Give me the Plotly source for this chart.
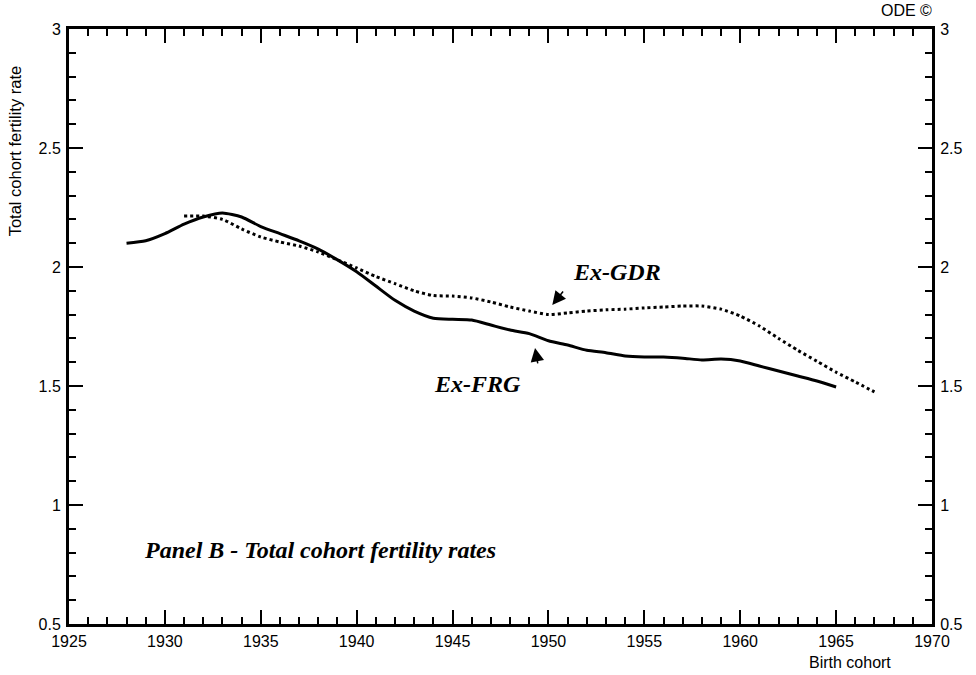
import plotly.graph_objects as go

# Birth cohorts and total cohort fertility rates
frg_years = list(range(1928, 1966))
frg_tcfr = [2.10, 2.11, 2.14, 2.18, 2.21, 2.227, 2.21, 2.17, 2.14, 2.11,
            2.075, 2.03, 1.98, 1.92, 1.86, 1.815, 1.785, 1.78, 1.777, 1.756,
            1.735, 1.72, 1.69, 1.672, 1.65, 1.64, 1.626, 1.622, 1.622, 1.617,
            1.609, 1.613, 1.605, 1.584, 1.563, 1.542, 1.521, 1.496]

gdr_years = list(range(1931, 1968))
gdr_tcfr = [2.214, 2.214, 2.20, 2.16, 2.126, 2.105, 2.088, 2.063, 2.03, 1.996,
            1.96, 1.93, 1.90, 1.88, 1.878, 1.87, 1.853, 1.832, 1.815, 1.80,
            1.807, 1.815, 1.82, 1.823, 1.828, 1.832, 1.836, 1.836, 1.823, 1.794,
            1.752, 1.70, 1.65, 1.604, 1.558, 1.517, 1.475]

x_range = [1925, 1970]
y_range = [0.5, 3.0]
x_ticks = [1925, 1930, 1935, 1940, 1945, 1950, 1955, 1960, 1965, 1970]
y_ticks = [0.5, 1, 1.5, 2, 2.5, 3]
y_ticklabels = ["0.5", "1", "1.5", "2", "2.5", "3"]

SANS = "Liberation Sans, Arial, sans-serif"
SERIF = "Liberation Serif, Times New Roman, serif"

fig = go.Figure()
fig.add_trace(go.Scatter(x=frg_years, y=frg_tcfr, mode="lines",
                         line=dict(color="black", width=3, shape="spline", smoothing=0.6),
                         showlegend=False, hoverinfo="skip"))
fig.add_trace(go.Scatter(x=gdr_years, y=gdr_tcfr, mode="lines",
                         line=dict(color="black", width=3, dash="dot", shape="spline", smoothing=0.6),
                         showlegend=False, hoverinfo="skip"))
# invisible trace so the mirrored top/right axes are drawn
fig.add_trace(go.Scatter(x=[x_range[0]], y=[y_range[0]], xaxis="x2", yaxis="y2",
                         mode="markers", marker=dict(opacity=0), showlegend=False,
                         hoverinfo="skip"))

common_x = dict(range=x_range, showgrid=False, zeroline=False, showline=True,
                linecolor="black", linewidth=3, ticks="inside", ticklen=14,
                tickwidth=2, tickcolor="black", tickvals=x_ticks,
                minor=dict(dtick=1, ticks="inside", ticklen=7, tickwidth=2,
                           tickcolor="black", showgrid=False))
common_y = dict(range=y_range, showgrid=False, zeroline=False, showline=True,
                linecolor="black", linewidth=3, ticks="inside", ticklen=14,
                tickwidth=2, tickcolor="black", tickvals=y_ticks,
                ticktext=y_ticklabels,
                minor=dict(dtick=0.1, ticks="inside", ticklen=7, tickwidth=2,
                           tickcolor="black", showgrid=False))

fig.update_layout(
    width=976, height=675,
    margin=dict(l=69, r=44, t=29, b=51),
    paper_bgcolor="white", plot_bgcolor="white",
    font=dict(family=SANS, size=16, color="black"),
    xaxis=dict(**common_x, side="bottom", showticklabels=True,
               tickfont=dict(family=SANS, size=16), ticklabelstandoff=1),
    xaxis2=dict(**common_x, side="top", overlaying="x", showticklabels=False),
    yaxis=dict(**common_y, side="left", showticklabels=True,
               tickfont=dict(family=SANS, size=16), ticklabelstandoff=2),
    yaxis2=dict(**common_y, side="right", overlaying="y", showticklabels=True,
                tickfont=dict(family=SANS, size=16), ticklabelstandoff=2),
)

annotations = [
    dict(text="Total cohort fertility rate", xref="paper", yref="paper",
         x=-0.0626, y=0.796, textangle=-90, showarrow=False,
         font=dict(family=SANS, size=16.5), xanchor="center", yanchor="middle"),
    dict(text="Birth cohort", xref="paper", yref="paper", x=0.905, y=-0.065,
         showarrow=False, font=dict(family=SANS, size=16),
         xanchor="center", yanchor="middle"),
    dict(text="ODE ©", xref="paper", yref="paper", x=0.97, y=1.0,
         showarrow=False, font=dict(family=SANS, size=16),
         xanchor="center", yanchor="middle", yshift=19),
    dict(text="<b><i>Panel B - Total cohort fertility rates</i></b>",
         x=1928.8, y=0.81, xref="x", yref="y", showarrow=False,
         font=dict(family=SERIF, size=24), xanchor="left", yanchor="middle"),
    dict(text="<b><i>Ex-GDR</i></b>", x=1953.6, y=1.98, xref="x", yref="y",
         showarrow=False, font=dict(family=SERIF, size=24),
         xanchor="center", yanchor="middle"),
    dict(text="<b><i>Ex-FRG</i></b>", x=1946.3, y=1.51, xref="x", yref="y",
         showarrow=False, font=dict(family=SERIF, size=24),
         xanchor="center", yanchor="middle"),
    dict(text="", x=1950.2, y=1.84, xref="x", yref="y", showarrow=True,
         ax=12, ay=-15, arrowhead=2, arrowsize=1.8, arrowwidth=1.5,
         arrowcolor="black"),
    dict(text="", x=1949.3, y=1.66, xref="x", yref="y", showarrow=True,
         ax=3, ay=17, arrowhead=2, arrowsize=1.8, arrowwidth=1.5,
         arrowcolor="black"),
]
fig.update_layout(annotations=annotations)

fig.write_html("out.html")
